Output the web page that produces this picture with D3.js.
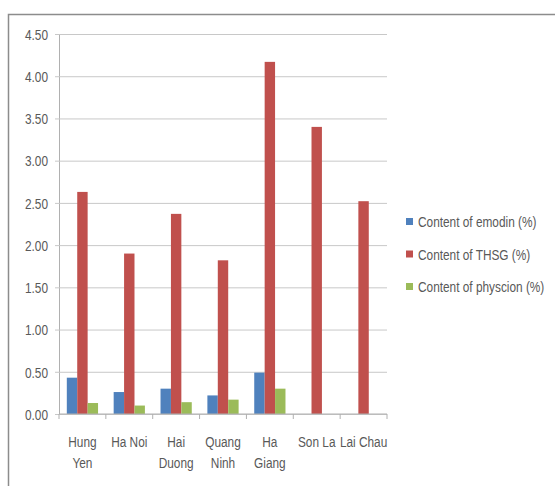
<!DOCTYPE html>
<html>
<head>
<meta charset="utf-8">
<script src="https://cdn.jsdelivr.net/npm/d3@7"></script>
<style>
  body { margin: 0; background: #fff; }
  svg text { font-family: "Liberation Sans", Arial, sans-serif; font-size: 15px; fill: #595959; }
</style>
</head>
<body>
<script>
const categories = ['Hung Yen', 'Ha Noi', 'Hai Duong', 'Quang Ninh', 'Ha Giang', 'Son La', 'Lai Chau'];
const xTickLabels = [['Hung', 'Yen'], ['Ha Noi'], ['Hai', 'Duong'], ['Quang', 'Ninh'], ['Ha', 'Giang'], ['Son La'], ['Lai Chau']];
const seriesNames = ['Content of emodin (%)', 'Content of THSG (%)', 'Content of physcion (%)'];
const emodin = [0.43, 0.26, 0.30, 0.22, 0.49, null, null];
const thsg = [2.63, 1.90, 2.37, 1.82, 4.17, 3.40, 2.52];
const physcion = [0.13, 0.10, 0.14, 0.17, 0.30, null, null];
const yTicks = [0, 0.5, 1, 1.5, 2, 2.5, 3, 3.5, 4, 4.5];
const colors = ['#4F81BD', '#C0504D', '#9BBB59'];

const width = 555;
const height = 486;
const marginLeft = 59, marginTop = 34, plotW = 328, plotH = 380;
const squeeze = 'scale(0.79, 1)'; // the original text face is narrow

const svg = d3.select('body').append('svg')
  .attr('width', width)
  .attr('height', height);

// chart frame
svg.append('rect')
  .attr('x', 8.5).attr('y', 14.5)
  .attr('width', 600).attr('height', 600)
  .attr('fill', 'none').attr('stroke', '#8c8c8c').attr('stroke-width', 1.5);

const x0 = d3.scaleBand().domain(categories).range([0, plotW]).paddingInner(0).paddingOuter(0);
const x1 = d3.scaleBand().domain(seriesNames).range([0, x0.bandwidth()]).paddingInner(0).paddingOuter(0.75);
const y = d3.scaleLinear().domain([0, 4.5]).range([plotH, 0]);

const plot = svg.append('g').attr('transform', `translate(${marginLeft}, ${marginTop})`);

const yAxis = d3.axisLeft(y)
  .tickValues(yTicks)
  .tickFormat(d3.format('.2f'))
  .tickSizeInner(-plotW)
  .tickSizeOuter(0);

const yg = plot.append('g').attr('class', 'axis').call(yAxis);
yg.select('.domain').attr('stroke', '#b0b0b0');
yg.selectAll('.tick line').attr('x1', -4).attr('stroke', '#c8c8c8');
yg.selectAll('.tick text')
  .attr('x', 0).attr('dy', '0.35em').attr('fill', null)
  .attr('transform', `translate(-11, 0) ${squeeze}`);

const series = [emodin, thsg, physcion];
const groups = plot.selectAll('g.cat')
  .data(categories)
  .enter()
  .append('g')
  .attr('class', 'cat')
  .attr('transform', (d) => `translate(${x0(d)}, 0)`);

groups.selectAll('rect')
  .data((d, i) => seriesNames.map((s, j) => ({ s, v: series[j][i], c: colors[j] })).filter((e) => e.v != null))
  .enter()
  .append('rect')
  .attr('x', (d) => x1(d.s))
  .attr('y', (d) => y(d.v))
  .attr('width', x1.bandwidth())
  .attr('height', (d) => plotH - y(d.v))
  .attr('fill', (d) => d.c);

// x axis line with ticks at category boundaries
const xg = plot.append('g').attr('transform', `translate(0, ${plotH})`);
xg.append('line').attr('x1', 0).attr('x2', plotW).attr('stroke', '#b0b0b0');
xg.selectAll('line.tk')
  .data(categories.map((c) => x0(c)).concat([plotW]))
  .enter()
  .append('line')
  .attr('class', 'tk')
  .attr('x1', (d) => d).attr('x2', (d) => d)
  .attr('y1', 0).attr('y2', 5)
  .attr('stroke', '#b0b0b0');

const xl = xg.selectAll('text.lbl')
  .data(categories)
  .enter()
  .append('text')
  .attr('class', 'lbl')
  .attr('text-anchor', 'middle')
  .attr('transform', (d) => `translate(${x0(d) + x0.bandwidth() / 2}, 33) ${squeeze}`);
xl.selectAll('tspan')
  .data((d, i) => xTickLabels[i])
  .enter()
  .append('tspan')
  .attr('x', 0)
  .attr('dy', (d, i) => i === 0 ? 0 : 21)
  .text((d) => d);

// legend
const legend = svg.append('g').attr('transform', 'translate(406, 222)');
const li = legend.selectAll('g')
  .data(seriesNames)
  .enter()
  .append('g')
  .attr('transform', (d, i) => `translate(0, ${i * 32.5})`);
li.append('rect').attr('x', 0).attr('y', -4).attr('width', 7).attr('height', 7)
  .attr('fill', (d, i) => colors[i]);
li.append('text').attr('dy', '0.35em')
  .attr('transform', `translate(12, 0) ${squeeze}`)
  .text((d) => d);
</script>
</body>
</html>
